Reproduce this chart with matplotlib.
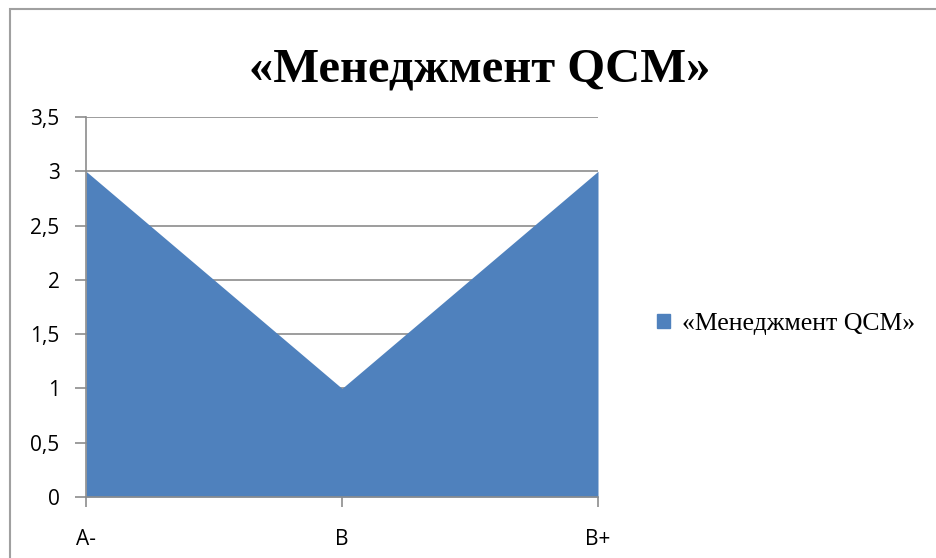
import numpy as np
import matplotlib.pyplot as plt
from matplotlib.patches import Rectangle, Patch

# data
categories = ["A-", "B", "B+"]
values = [3, 1, 3]
series_name = "«Менеджмент QCM»"
y_ticks = [0, 0.5, 1, 1.5, 2, 2.5, 3, 3.5]
y_labels = ["0", "0,5", "1", "1,5", "2", "2,5", "3", "3,5"]

fill_col = "#4F81BD"
grid_col = "#8C8C8C"

fig = plt.figure(figsize=(9.36, 5.58), dpi=100)

# outer chart frame (runs off the right and bottom edges)
fig.patches.append(Rectangle((10 / 936, -0.1), 1.2, 1.1 - 9 / 558,
                             transform=fig.transFigure, fill=False,
                             edgecolor="#A0A0A0", linewidth=1.5))

ax = fig.add_axes([86 / 936, 61 / 558, 512 / 936, 380 / 558])
x = np.arange(len(categories))
ax.fill_between(x, values, 0, color=fill_col, linewidth=0, zorder=2)

ax.set_xlim(0, len(categories) - 1)
ax.set_ylim(0, 3.5)
ax.set_yticks(y_ticks)
ax.set_yticklabels(y_labels)
ax.set_xticks(x)
ax.set_xticklabels(categories)

for y in y_ticks[1:]:
    ax.axhline(y, color=grid_col, linewidth=1.2, zorder=1)

for s in ["top", "right"]:
    ax.spines[s].set_visible(False)
for s in ["left", "bottom"]:
    ax.spines[s].set_color(grid_col)
    ax.spines[s].set_linewidth(1.2)
    ax.spines[s].set_zorder(3)

ax.tick_params(axis="y", length=8, width=1.2, color=grid_col, pad=11,
               labelsize=15)
ax.tick_params(axis="x", length=7, width=1.2, color=grid_col, pad=16,
               labelsize=15)
for lab in ax.get_xticklabels() + ax.get_yticklabels():
    lab.set_fontfamily("Open Sans")

fig.text(480 / 936, 1 - 70 / 558, series_name, ha="center", va="center",
         fontsize=35, fontweight="bold", family="Liberation Serif")

leg = fig.legend(handles=[Patch(color=fill_col, label=series_name)],
                 loc="center left", bbox_to_anchor=(634 / 936, 1 - 324 / 558),
                 frameon=False, handlelength=0.5, handleheight=0.5,
                 handletextpad=0.45,
                 prop={"family": "Liberation Serif", "size": 18.5})

fig.savefig("out.png", dpi=100)
